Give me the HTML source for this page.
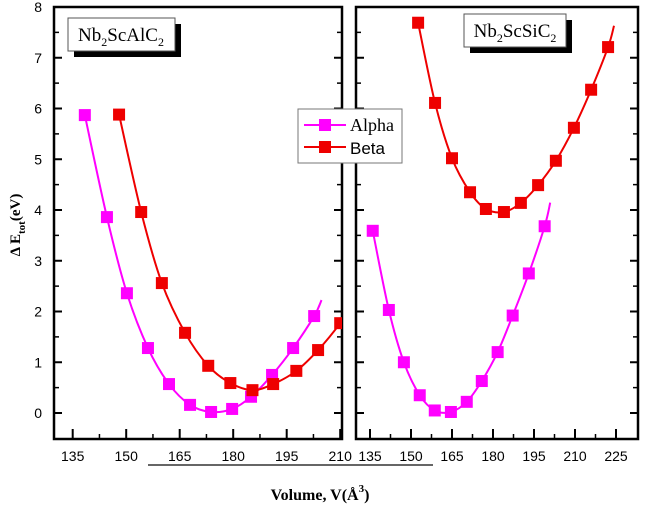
<!DOCTYPE html>
<html><head><meta charset="utf-8"><style>
html,body{margin:0;padding:0;background:#fff;width:645px;height:508px;overflow:hidden}
svg text{font-family:"Liberation Sans",Arial,sans-serif}
svg#chart{position:absolute;left:0;top:0}
</style></head><body>
<svg id="chart" width="645" height="508" viewBox="0 0 645 508" xmlns="http://www.w3.org/2000/svg">
<defs><clipPath id="clipL"><rect x="54" y="7" width="288" height="432"/></clipPath><clipPath id="clipR"><rect x="356" y="7" width="282" height="432"/></clipPath></defs>
</svg>
<script>
const yTicks=[0,1,2,3,4,5,6,7,8];
const leftXTicks=[135,150,165,180,195,210];
const rightXTicks=[135,150,165,180,195,210,225];
const leftAlphaV=[138.4,144.6,150.2,156.1,162,167.9,173.8,179.7,185,190.9,196.8,202.7];
const leftAlphaE=[5.87,3.86,2.36,1.28,0.57,0.16,0.02,0.08,0.32,0.75,1.28,1.91];
const leftBetaV=[148,154.2,160,166.5,173,179.2,185.4,191.2,197.7,203.8,210];
const leftBetaE=[5.88,3.96,2.56,1.58,0.93,0.59,0.45,0.57,0.83,1.24,1.77];
const rightAlphaV=[136,141.9,147.4,153.2,158.7,164.6,170.4,175.9,181.7,187.2,193.1,198.9];
const rightAlphaE=[3.59,2.03,1.0,0.35,0.05,0.02,0.22,0.63,1.2,1.92,2.75,3.68];
const rightBetaV=[152.6,158.8,165,171.6,177.4,184,190.2,196.5,203,209.6,215.9,222.1];
const rightBetaE=[7.69,6.11,5.02,4.35,4.02,3.96,4.14,4.49,4.97,5.62,6.37,7.21];

const NS="http://www.w3.org/2000/svg";
const svg=document.getElementById('chart');
function el(tag,attrs,parent){const e=document.createElementNS(NS,tag);for(const k in attrs)e.setAttribute(k,attrs[k]);(parent||svg).appendChild(e);return e;}
const yTop=7,yBot=439;
const yS=v=>413-v*50.75;
const panels=[
 {x0:54,x1:342,v0:135,px0:72.7,k:53.5/15,ticks:leftXTicks,labels:true,name:'left',clip:'url(#clipL)'},
 {x0:356,x1:638,v0:135,px0:370,k:41/15,ticks:rightXTicks,labels:false,name:'right',clip:'url(#clipR)'}
];
panels.forEach(p=>{p.xS=v=>p.px0+(v-p.v0)*p.k;});

function smooth(pts){
  let d=`M${pts[0][0]},${pts[0][1]}`;
  for(let i=0;i<pts.length-1;i++){
    const p0=pts[i-1]||pts[i],p1=pts[i],p2=pts[i+1],p3=pts[i+2]||p2;
    const c1=[p1[0]+(p2[0]-p0[0])/6,p1[1]+(p2[1]-p0[1])/6];
    const c2=[p2[0]-(p3[0]-p1[0])/6,p2[1]-(p3[1]-p1[1])/6];
    d+=` C${c1[0]},${c1[1]} ${c2[0]},${c2[1]} ${p2[0]},${p2[1]}`;
  }
  return d;
}
function series(p,V,E,color,name){
  const g=el('g',{'clip-path':p.clip});
  
  
  const pts=V.map((v,i)=>[p.xS(v),yS(E[i])]);
  const n=pts.length, a=pts[n-2], b=pts[n-1];
  const ext=[b[0]+(b[0]-a[0])*0.35,b[1]+(b[1]-a[1])*0.5];
  const path=el('path',{d:smooth(pts.concat([ext])),fill:'none',stroke:color,'stroke-width':2},g);
  
  
  pts.forEach((q,i)=>{
    const r=el('rect',{x:q[0]-6,y:q[1]-6,width:12,height:12,fill:color},g);
    
    
  });
}
panels.forEach(p=>{
  const g=el('g',{});
  
  
  yTicks.forEach(t=>{
    const y=yS(t);
    el('line',{x1:p.x0,x2:p.x0+8,y1:y,y2:y,stroke:'#000','stroke-width':2},g);
    el('line',{x1:p.x1,x2:p.x1-8,y1:y,y2:y,stroke:'#000','stroke-width':2},g);
    if(t<8){const ym=yS(t+0.5);
      el('line',{x1:p.x0,x2:p.x0+5,y1:ym,y2:ym,stroke:'#000','stroke-width':1.5},g);
      el('line',{x1:p.x1,x2:p.x1-5,y1:ym,y2:ym,stroke:'#000','stroke-width':1.5},g);}
    if(p.labels){const tx=el('text',{x:p.x0-12,y:y+5,'text-anchor':'end','font-size':14},g);tx.textContent=t;
      }
  });
  p.ticks.forEach((t,i)=>{
    const x=p.xS(t);
    el('line',{x1:x,x2:x,y1:yBot,y2:yBot-10,stroke:'#000','stroke-width':2},g);
    const xm=p.xS(t+7.5);
    if(xm<p.x1-2) el('line',{x1:xm,x2:xm,y1:yBot,y2:yBot-5,stroke:'#000','stroke-width':1.5},g);
    const tx=el('text',{x:x,y:461,'text-anchor':'middle','font-size':14},g);tx.textContent=t;
    
  });
  el('rect',{x:p.x0,y:yTop,width:p.x1-p.x0,height:yBot-yTop,fill:'none',stroke:'#000','stroke-width':2.5},g);
});
series(panels[0],leftAlphaV,leftAlphaE,'#ff00ff','left-alpha-series');
series(panels[0],leftBetaV,leftBetaE,'#ee0000','left-beta-series');
series(panels[1],rightAlphaV,rightAlphaE,'#ff00ff','right-alpha-series');
series(panels[1],rightBetaV,rightBetaE,'#ee0000','right-beta-series');
</script>
<svg style="position:absolute;left:0;top:0" width="645" height="508" xmlns="http://www.w3.org/2000/svg">
 <g>
  <rect x="74" y="24" width="107" height="33" fill="#000"/>
  <rect x="68" y="18" width="107" height="33" fill="#fff" stroke="#555" stroke-width="1"/>
  <text x="121" y="41" text-anchor="middle" font-size="19" style="font-family:'Liberation Serif',serif">Nb<tspan font-size="12" dy="5">2</tspan><tspan dy="-5">ScAlC</tspan><tspan font-size="12" dy="5">2</tspan></text>
 </g>
 <g>
  <rect x="470" y="20" width="102" height="33" fill="#000"/>
  <rect x="464" y="14" width="102" height="33" fill="#fff" stroke="#555" stroke-width="1"/>
  <text x="515" y="37" text-anchor="middle" font-size="19" style="font-family:'Liberation Serif',serif">Nb<tspan font-size="12" dy="5">2</tspan><tspan dy="-5">ScSiC</tspan><tspan font-size="12" dy="5">2</tspan></text>
 </g>
 <g>
  <rect x="298" y="109" width="104" height="54" fill="#fff" stroke="#777" stroke-width="1"/>
  <g>
   <line x1="304" x2="346" y1="125" y2="125" stroke="#ff00ff" stroke-width="2"/>
   <rect x="319" y="119" width="12" height="12" fill="#ff00ff"/>
   <text x="350" y="131" font-size="18" style="font-family:'Liberation Serif',serif">Alpha</text>
  </g>
  <g>
   <line x1="304" x2="346" y1="147" y2="147" stroke="#ee0000" stroke-width="2"/>
   <rect x="319" y="141" width="12" height="12" fill="#ee0000"/>
   <text x="350" y="154" font-size="17">Beta</text>
  </g>
 </g>
 <line x1="148" x2="433" y1="465" y2="465" stroke="#333" stroke-width="1.5"/>
 <text x="320" y="500" text-anchor="middle" font-size="16" font-weight="bold" style="font-family:'Liberation Serif',serif">Volume, V(Å<tspan font-size="11" dy="-8">3</tspan><tspan dy="8">)</tspan></text>
 <text transform="translate(20,225) rotate(-90)" text-anchor="middle" font-size="15" font-weight="bold" style="font-family:'Liberation Serif',serif">Δ E<tspan font-size="11" dy="5">tot</tspan><tspan dy="-5">(eV)</tspan></text>
</svg>
</body></html>
